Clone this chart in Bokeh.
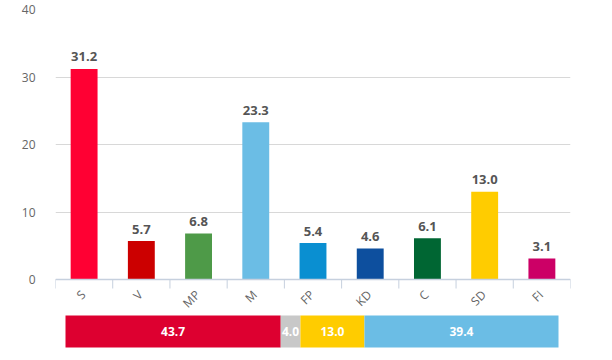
import math
from bokeh.plotting import figure
from bokeh.models import FixedTicker, Range1d
from bokeh.embed import file_html
from bokeh.resources import INLINE
from bokeh.core.properties import value

# ---- data ----
parties = ["S", "V", "MP", "M", "FP", "KD", "C", "SD", "FI"]
shares = [31.2, 5.7, 6.8, 23.3, 5.4, 4.6, 6.1, 13.0, 3.1]
party_colors = ["#FF0033", "#CC0000", "#4E9A48", "#6BBDE5", "#0A8FD1",
                "#0D4F9E", "#006633", "#FFCC00", "#CC0066"]
y_ticks = [0, 10, 20, 30, 40]

block_values = [43.7, 4.0, 13.0, 39.4]
block_colors = ["#DD0030", "#C8C8C8", "#FFCC00", "#6BBDE5"]

FONT = "Open Sans"
AXIS_COLOR = "#C6D0DE"
LABEL_COLOR = "#666666"

# ---- layout constants (pixels) ----
W, H = 596, 350
BORDER_L, BORDER_R, BORDER_T, BORDER_B = 55, 26, 9, 1
frame_h = H - BORDER_T - BORDER_B
frame_w = W - BORDER_L - BORDER_R
y_top = 40
px_per_unit = 270 / y_top          # 0 -> 40 spans 270 px
y_start = y_top - frame_h / px_per_unit

n = len(parties)
centers = [i + 0.5 for i in range(n)]
bounds = [float(i) for i in range(n + 1)]

p = figure(width=W, height=H, output_backend="svg", toolbar_location=None,
           x_range=Range1d(0, n), y_range=Range1d(y_start, y_top),
           min_border_left=BORDER_L, min_border_right=BORDER_R,
           min_border_top=BORDER_T, min_border_bottom=BORDER_B,
           x_axis_location=None)
p.outline_line_color = None
p.background_fill_color = "white"
p.border_fill_color = "white"

# grid
p.xgrid.visible = False
p.ygrid.ticker = FixedTicker(ticks=y_ticks)
p.ygrid.grid_line_color = "#D8D8D8"

# y axis
p.yaxis.ticker = FixedTicker(ticks=y_ticks)
p.yaxis.axis_line_color = None
p.yaxis.major_tick_line_color = None
p.yaxis.minor_tick_line_color = None
p.yaxis.major_label_standoff = 14
p.yaxis.major_label_text_font = FONT
p.yaxis.major_label_text_font_size = "12px"
p.yaxis.major_label_text_color = LABEL_COLOR

# bars + value labels
p.vbar(x=centers, top=shares, width=0.47, bottom=0, color=party_colors,
       line_color=None)
p.text(x=centers, y=shares, text=[f"{v:.1f}" for v in shares],
       text_align="center", text_baseline="alphabetic", y_offset=-12,
       text_font=value(FONT), text_font_size="13px", text_font_style="bold",
       text_color="#555555")

# category axis (line, ticks between categories, rotated labels)
tick_len = 9 / px_per_unit
p.segment(x0=[0], y0=[0], x1=[n], y1=[0], line_color=AXIS_COLOR, line_width=1.5)
p.segment(x0=bounds, y0=[0] * len(bounds), x1=bounds, y1=[-tick_len] * len(bounds),
          line_color=AXIS_COLOR, line_width=1)
p.text(x=centers, y=[0] * n, text=parties, angle=math.pi / 4,
       text_align="right", text_baseline="middle", x_offset=-1, y_offset=13,
       text_font=value(FONT), text_font_size="12px", text_color=LABEL_COLOR)

# ---- block bar (own horizontal scale) ----
total = sum(block_values)
bar_left_px, bar_right_px = 65, 558
units_per_px = total / (bar_right_px - bar_left_px)
bx0 = -(bar_left_px - BORDER_L) * units_per_px
bx1 = total + (BORDER_L + frame_w - bar_right_px) * units_per_px
p.extra_x_ranges = {"block": Range1d(bx0, bx1)}

lefts = []
acc = 0.0
for v in block_values:
    lefts.append(acc)
    acc += v
rights = [l + v for l, v in zip(lefts, block_values)]
mids = [(l + r) / 2 for l, r in zip(lefts, rights)]

bar_top = -(315 - 279) / px_per_unit
bar_bot = -(347 - 279) / px_per_unit
bar_mid = (bar_top + bar_bot) / 2
p.hbar(y=bar_mid, left=lefts, right=rights, height=bar_top - bar_bot,
       color=block_colors, line_color=None, x_range_name="block")
p.text(x=mids, y=[bar_mid] * len(mids), text=[f"{v:.1f}" for v in block_values],
       text_align="center", text_baseline="middle", x_range_name="block",
       text_font=value(FONT), text_font_size="12px", text_font_style="bold",
       text_color="white")

open("out.html", "w").write(file_html(p, INLINE))
